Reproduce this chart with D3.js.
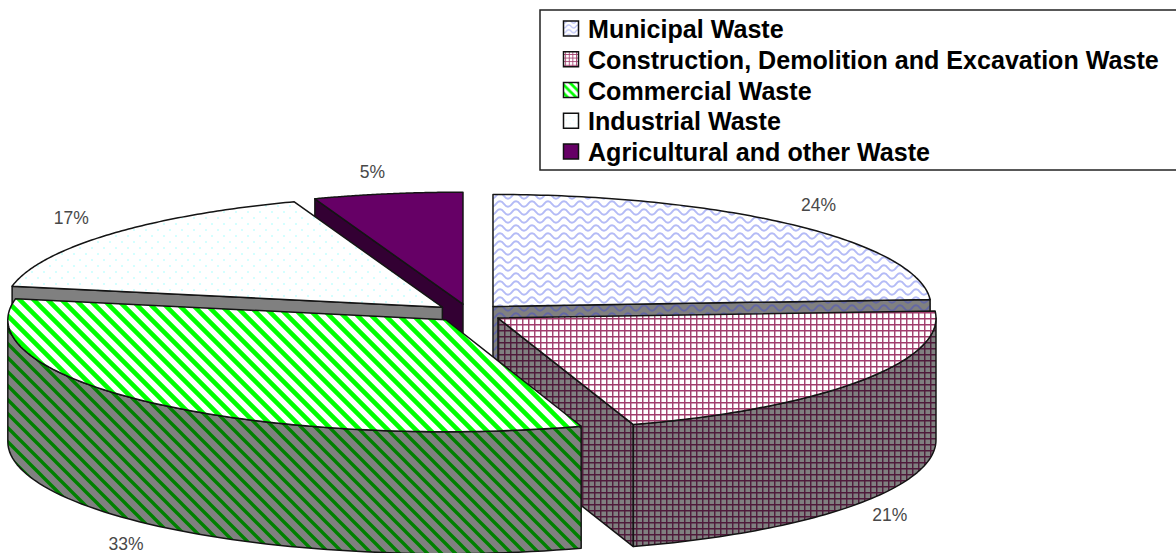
<!DOCTYPE html>
<html><head><meta charset="utf-8">
<style>html,body{margin:0;padding:0;background:#fff;overflow:hidden}svg{display:block}</style>
<script src="https://cdn.jsdelivr.net/npm/d3@7"></script></head>
<body><svg id="c" width="1176" height="553"></svg>
<script>
const categories = ["Municipal Waste","Construction, Demolition and Excavation Waste","Commercial Waste","Industrial Waste","Agricultural and other Waste"];
const shares = [24,21,33,16.51,5.49];
const drawOrder = [4,0,3,1,2];

const W=1176,H=553;
const CX=469,CY=313,RX=438,RY=112,DEPTH=122,EXPLODE=0.08;
const labelNudgeX=[-3,-2,-2,-8,3], labelNudgeY=[-2,-2,-0.5,0,2];
const sx=d3.scaleLinear().domain([-1,1]).range([CX-RX,CX+RX]);
const sy=d3.scaleLinear().domain([-1,1]).range([CY-RY,CY+RY]);
const svg=d3.select("#c");
const defs=svg.append("defs");

function pat(id,w,h,bg,draw,scale){
  const p=defs.append("pattern").attr("id",id).attr("patternUnits","userSpaceOnUse").attr("width",w).attr("height",h);
  if(scale) p.attr("patternTransform",`scale(${scale})`);
  p.append("rect").attr("width",w).attr("height",h).attr("fill",bg);
  draw(p);
}
const wave=(c)=>p=>{
  const d=y=>`M-8 ${y} Q-4 ${y+5.4} 0 ${y} T8 ${y} T16 ${y} T24 ${y}`;
  [4,12].forEach(y=>p.append("path").attr("d",d(y)).attr("fill","none").attr("stroke",c).attr("stroke-width",2));
};
const grid=(c)=>p=>{
  p.append("path").attr("d","M0 0.75H6M0.75 0V6").attr("stroke",c).attr("stroke-width",1.4).attr("fill","none");
};
const stripe=(c,w,n)=>p=>{
  p.append("path").attr("d",`M${-n/2} ${-n/2}L${n*1.5} ${n*1.5}M${n/2} ${-n/2}L${n*1.5} ${n/2}M${-n/2} ${n/2}L${n/2} ${n*1.5}`).attr("stroke",c).attr("stroke-width",w).attr("fill","none");
};
const dots=(c)=>p=>{
  [[1,1],[7,7]].forEach(o=>p.append("rect").attr("x",o[0]).attr("y",o[1]).attr("width",2).attr("height",2).attr("fill",c));
};
function allPatterns(suffix,s){
  pat("fMun"+suffix,16,8,"#fff",wave("#b4bbf6"),s);
  pat("fCon"+suffix,6,6,"#fff",grid("#a03c6c"),s);
  pat("fCom"+suffix,14,14,"#fff",stripe("#00ff00",4.6,14),s);
  pat("fInd"+suffix,12,12,"#fff",dots("#d4ffff"),s);
}
allPatterns("",null);
allPatterns("L",0.6);
pat("wMun",16,8,"#808080",wave("#6468a4"));
pat("wCon",6,6,"#808080",grid("#4f1a3a"));
pat("wCom",14,14,"#808080",stripe("#008000",3.4,14));

const faceFill=["url(#fMun)","url(#fCon)","url(#fCom)","url(#fInd)","#660066"];
const wallFill=["url(#wMun)","url(#wCon)","url(#wCom)","#808080","#330033"];
const legendFill=["url(#fMunL)","url(#fConL)","url(#fComL)","url(#fIndL)","#660066"];

const arcs=d3.pie().sort(null).value(d=>d)(shares);
const line=d3.line();
const EDGE={stroke:"#141414","stroke-width":1.5,"stroke-linejoin":"round"};
const g=svg.append("g");
function poly(pts,fill){
  const el=g.append("path").attr("d",line(pts)+"Z").attr("fill",fill);
  Object.entries(EDGE).forEach(([k,v])=>el.attr(k,v));
}
drawOrder.forEach(i=>{
  const a=arcs[i],m=(a.startAngle+a.endAngle)/2;
  const ax=sx(EXPLODE*Math.sin(m)), ay=sy(-EXPLODE*Math.cos(m));
  const pt=t=>[ax+RX*Math.sin(t),ay-RY*Math.cos(t)];
  const down=p=>[p[0],p[1]+DEPTH];
  const apex=[ax,ay];
  const s0=pt(a.startAngle),s1=pt(a.endAngle);
  // radial walls that face the viewer
  if(Math.sin(a.startAngle)<-1e-6) poly([apex,s0,down(s0),down(apex)],wallFill[i]);
  if(Math.sin(a.endAngle)>1e-6) poly([apex,s1,down(s1),down(apex)],wallFill[i]);
  // outer wall
  const lo=Math.max(a.startAngle,Math.PI/2),hi=Math.min(a.endAngle,3*Math.PI/2);
  if(hi>lo){
    const ts=d3.range(0,65).map(k=>lo+(hi-lo)*k/64),top=ts.map(pt);
    poly(top.concat(top.map(down).reverse()),wallFill[i]);
  }
  // top face
  const ts=d3.range(0,97).map(k=>a.startAngle+(a.endAngle-a.startAngle)*k/96);
  poly([apex].concat(ts.map(pt)),faceFill[i]);
});
// value labels
arcs.forEach((a,i)=>{
  const m=(a.startAngle+a.endAngle)/2,sn=Math.sin(m);
  const ax=sx(EXPLODE*sn), ay=sy(-EXPLODE*Math.cos(m));
  const dy=-RY*Math.cos(m)*1.22+(Math.cos(m)<0?DEPTH:0);
  const dx=RX*sn+Math.sign(sn)*(15+20*Math.abs(sn));
  svg.append("text").attr("x",ax+dx+labelNudgeX[i]).attr("y",ay+dy+labelNudgeY[i])
    .attr("text-anchor","middle").attr("dominant-baseline","central")
    .attr("font-family","'Liberation Sans',Arial,sans-serif").attr("font-size",17.5).attr("fill","#484848")
    .text(Math.round(a.data)+"%");
});
// legend
const lg=svg.append("g");
lg.append("rect").attr("x",540).attr("y",10).attr("width",700).attr("height",160).attr("fill","#fff").attr("stroke","#222").attr("stroke-width",1.5);
const ly=d3.scalePoint().domain(d3.range(5)).range([29,152]);
categories.forEach((c,i)=>{
  lg.append("rect").attr("x",563.5).attr("y",ly(i)-8).attr("width",15).attr("height",15).attr("fill",legendFill[i]).attr("stroke","#111").attr("stroke-width",1.5);
  lg.append("text").attr("x",588).attr("y",ly(i)).attr("dominant-baseline","central")
    .attr("font-family","'Liberation Sans',Arial,sans-serif").attr("font-weight","bold").attr("font-size",25.1).attr("fill","#000")
    .text(c);
});
</script></body></html>
